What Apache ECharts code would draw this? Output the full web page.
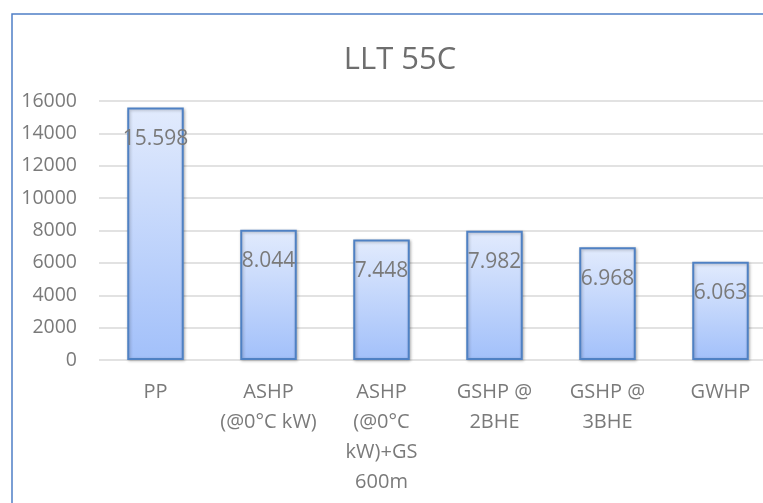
<!DOCTYPE html>
<html>
<head>
<meta charset="utf-8">
<script src="https://cdn.jsdelivr.net/npm/echarts@6/dist/echarts.min.js"></script>
<style>
  html, body { margin: 0; padding: 0; background: #fff; }
  #chart { width: 763px; height: 503px; }
</style>
</head>
<body>
<div id="chart"></div>
<script>
// Heating options and their annual values
const categories = ['PP', 'ASHP\n(@0°C kW)', 'ASHP\n(@0°C\nkW)+GS\n600m', 'GSHP @\n2BHE', 'GSHP @\n3BHE', 'GWHP'];
const values = [15598, 8044, 7448, 7982, 6968, 6063];
const yTicks = [0, 2000, 4000, 6000, 8000, 10000, 12000, 14000, 16000];
const chartTitle = 'LLT 55C';

// Thousands separated with a dot, e.g. 15598 -> "15.598"
function dotThousands(v) {
  return String(v).replace(/\B(?=(\d{3})+(?!\d))/g, '.');
}

const font = '"Open Sans", "Noto Sans", sans-serif';
const textColor = '#7a7a7a';
const chart = echarts.init(document.getElementById('chart'), null, { renderer: 'canvas' });

chart.setOption({
  backgroundColor: '#ffffff',
  animation: false,
  title: {
    text: chartTitle,
    left: 395,
    top: 40,
    textAlign: 'center',
    textStyle: { color: '#6e6e6e', fontSize: 31, fontWeight: 'normal', fontFamily: font }
  },
  graphic: [{
    type: 'rect',
    shape: { x: 12, y: 14, width: 800, height: 600 },
    style: { fill: 'none', stroke: '#4f7fc6', lineWidth: 1.5 },
    silent: true
  }],
  grid: { left: 99, top: 101, width: 678, bottom: 143, outerBoundsMode: 'none', containLabel: false },
  xAxis: {
    type: 'category',
    data: categories,
    axisLine: { show: false },
    axisTick: { show: false },
    axisLabel: {
      color: textColor,
      fontSize: 20,
      fontFamily: font,
      lineHeight: 30,
      margin: 17,
      interval: 0,
      verticalAlign: 'top'
    }
  },
  yAxis: {
    type: 'value',
    min: yTicks[0],
    max: yTicks[yTicks.length - 1],
    interval: yTicks[1] - yTicks[0],
    axisLine: { show: false },
    axisTick: { show: false },
    splitLine: { lineStyle: { color: '#d9d9d9', width: 1.5 } },
    axisLabel: { color: textColor, fontSize: 19.5, fontFamily: font, margin: 22, formatter: v => String(v) }
  },
  series: [{
    type: 'bar',
    data: values,
    barWidth: '50%',
    itemStyle: {
      color: new echarts.graphic.LinearGradient(0, 0, 0, 1, [
        { offset: 0, color: '#e2ebfd' },
        { offset: 1, color: '#a2c0fa' }
      ]),
      borderColor: '#4f81c4',
      borderWidth: 2,
      shadowColor: 'rgba(0,0,0,0.25)',
      shadowBlur: 3,
      shadowOffsetX: 1,
      shadowOffsetY: 1
    },
    label: {
      show: true,
      position: 'insideTop',
      distance: 21,
      color: textColor,
      fontSize: 21,
      fontFamily: font,
      formatter: p => dotThousands(p.value)
    }
  }]
});
</script>
</body>
</html>
